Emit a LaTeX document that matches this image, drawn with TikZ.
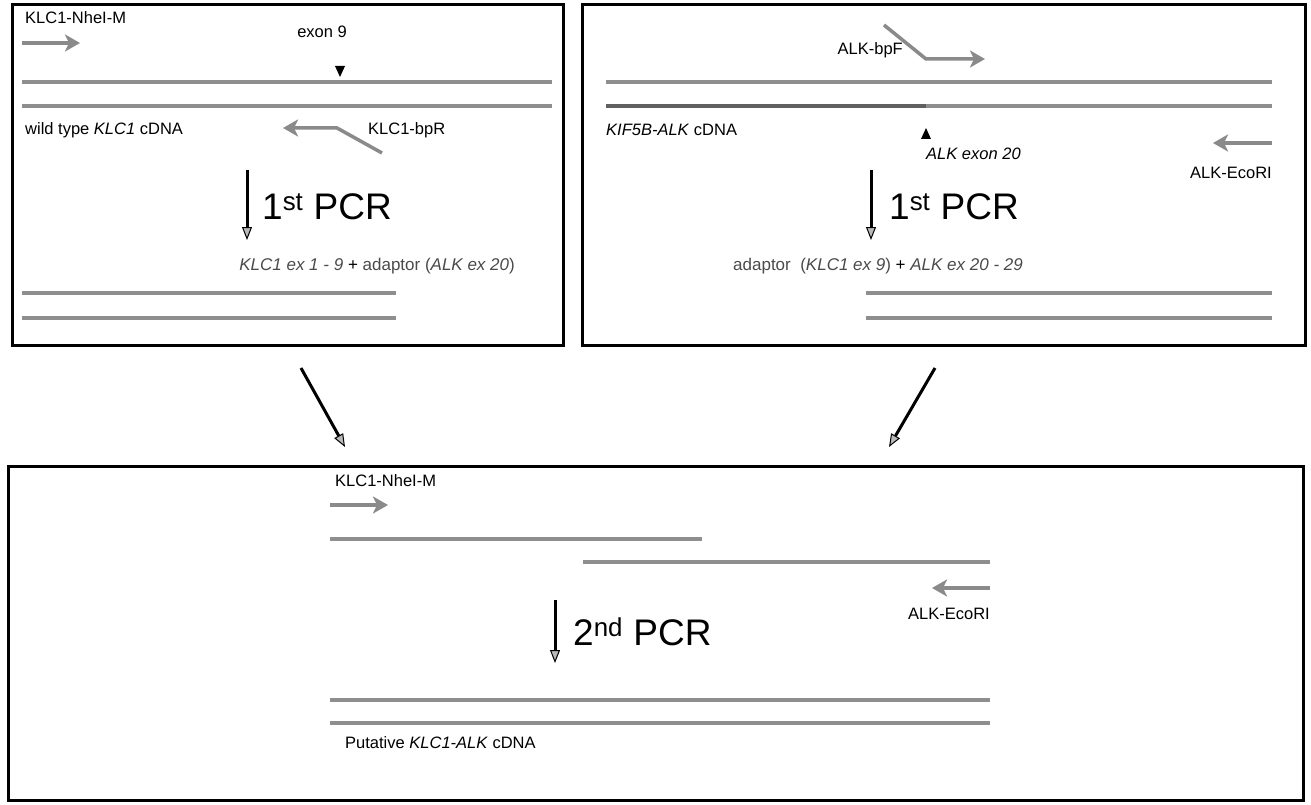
\documentclass[tikz,border=0pt]{standalone}
\usepackage{fontspec}
\setmainfont{Liberation Sans}
\usetikzlibrary{arrows.meta}
\definecolor{strandgray}{HTML}{8E8E8E}
\definecolor{primergray}{HTML}{8A8A8A}
\definecolor{txtgray}{HTML}{4A4A4A}

\begin{document}
\begin{tikzpicture}[x=1pt,y=-1pt,
    box/.style={line width=3pt},
    strand/.style={line width=4.5pt,draw=strandgray},
    primer/.style={line width=3.5pt,draw=primergray,
      -{Stealth[length=15pt,width=17pt,inset=4pt,fill=primergray]}},
    pcr/.style={line width=3pt,
      -{Triangle[length=13pt,width=10pt,line width=1pt,fill=gray!55]}},
    lbl/.style={inner sep=0pt,font=\fontsize{16.5}{18}\selectfont},
    prod/.style={inner sep=0pt,text=txtgray,font=\fontsize{17}{19}\selectfont},
    big/.style={inner sep=0pt,font=\fontsize{37}{40}\selectfont}]
  \useasboundingbox (0,0) rectangle (1311,805);
  % boxes
  \draw[box] (12,5) rectangle (563,345);
  \draw[box] (582,5) rectangle (1305,345);
  \draw[box] (8,466) rectangle (1303,800);

  % wild type KLC1
  \node[lbl,anchor=west] (nheiA) at (25,18) {KLC1-NheI-M};
  \coordinate (fwdA0) at (22,43);
  \coordinate (fwdA1) at (80,43);
  \draw[primer] (fwdA0) -- (fwdA1);
  \node[lbl,anchor=east] (exon9) at (347,32) {exon 9};
  \fill (335,66) -- (345,66) -- (340,77) -- cycle;
  \foreach \y in {82,106}
    \draw[strand] (22,\y) -- (552,\y);
  \node[lbl,anchor=west] (wtA) at (25,130) {wild type \textit{KLC1} cDNA};
  \coordinate (bpR0) at (382,153);
  \coordinate (bpR1) at (337,128);
  \coordinate (bpR2) at (283,128);
  \draw[primer] (bpR0) -- (bpR1) -- (bpR2);
  \node[lbl,anchor=west] (bpR) at (368,130) {KLC1-bpR};
  \coordinate (pcrA0) at (247,170);
  \coordinate (pcrA1) at (247,240);
  \draw[pcr] (pcrA0) -- (pcrA1);
  \node[big,anchor=west] (pcrA) at (262,207) {1\textsuperscript{st} PCR};
  \node[prod,anchor=east] (prodA) at (515,266)
    {\textit{KLC1 ex 1 - 9} \textcolor{black}{+} adaptor (\textit{ALK ex 20})};
  \foreach \y in {293,318}
    \draw[strand] (22,\y) -- (396,\y);

  % KIF5B-ALK
  \node[lbl,anchor=east] (bpF) at (903,50) {ALK-bpF};
  \coordinate (bpF0) at (884,25);
  \coordinate (bpF1) at (926,59);
  \coordinate (bpF2) at (985,59);
  \draw[primer] (bpF0) -- (bpF1) -- (bpF2);
  \foreach \y in {82,106}
    \draw[strand] (606,\y) -- (1272,\y);
  \draw[strand,draw=gray!75!black] (606,106) -- (926,106);
  \node[lbl,anchor=west] (kif) at (606,130) {\textit{KIF5B-ALK} cDNA};
  \fill (921,139) -- (931,139) -- (926,128) -- cycle;
  \node[lbl,anchor=west] (exon20) at (926,154) {\textit{ALK exon 20}};
  \coordinate (ecoB0) at (1272,143);
  \coordinate (ecoB1) at (1213,143);
  \draw[primer] (ecoB0) -- (ecoB1);
  \node[lbl,anchor=east] (ecoB) at (1272,173) {ALK-EcoRI};
  \coordinate (pcrB0) at (871,170);
  \coordinate (pcrB1) at (871,240);
  \draw[pcr] (pcrB0) -- (pcrB1);
  \node[big,anchor=west] (pcrB) at (889,207) {1\textsuperscript{st} PCR};
  \node[prod,anchor=west] (prodB) at (733,266)
    {adaptor\ \ (\textit{KLC1 ex 9}) \textcolor{black}{+} \textit{ALK ex 20 - 29}};
  \foreach \y in {293,318}
    \draw[strand] (866,\y) -- (1272,\y);

  % into 2nd PCR
  \coordinate (dnA0) at (301,368);
  \coordinate (dnA1) at (345,447);
  \coordinate (dnB0) at (935,368);
  \coordinate (dnB1) at (889,447);
  \draw[pcr] (dnA0) -- (dnA1);
  \draw[pcr] (dnB0) -- (dnB1);

  % KLC1-ALK
  \node[lbl,anchor=west] (nheiC) at (335,481) {KLC1-NheI-M};
  \coordinate (fwdC0) at (330,505);
  \coordinate (fwdC1) at (388,505);
  \draw[primer] (fwdC0) -- (fwdC1);
  \draw[strand] (330,539) -- (702,539);
  \draw[strand] (583,562) -- (990,562);
  \coordinate (ecoC0) at (990,588);
  \coordinate (ecoC1) at (932,588);
  \draw[primer] (ecoC0) -- (ecoC1);
  \node[lbl,anchor=east] (ecoC) at (990,614) {ALK-EcoRI};
  \coordinate (pcrC0) at (555,600);
  \coordinate (pcrC1) at (555,663);
  \draw[pcr] (pcrC0) -- (pcrC1);
  \node[big,anchor=west] (pcrC) at (573,632) {2\textsuperscript{nd} PCR};
  \foreach \y in {700,723}
    \draw[strand] (330,\y) -- (990,\y);
  \node[lbl,anchor=west] (putC) at (345,743) {Putative \textit{KLC1-ALK} cDNA};
\end{tikzpicture}
\end{document}
